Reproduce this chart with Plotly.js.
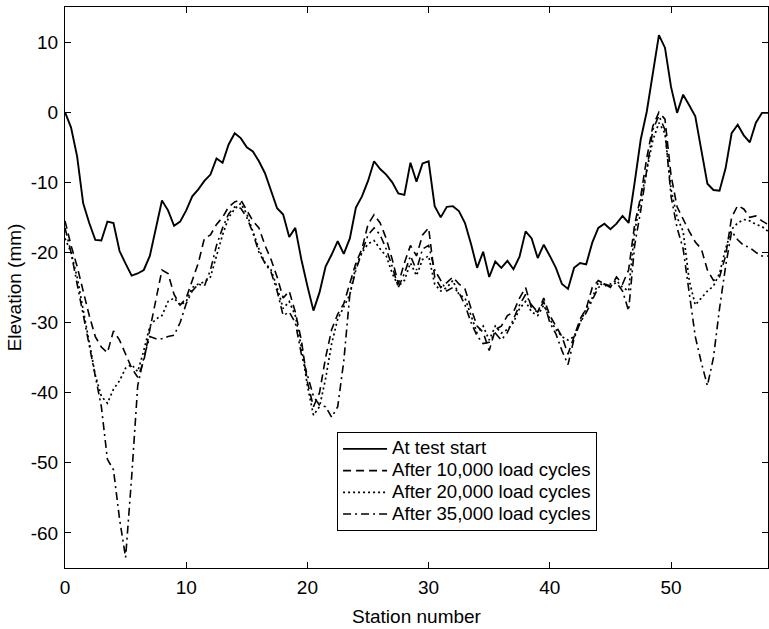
<!DOCTYPE html>
<html>
<head>
<meta charset="utf-8">
<script src="https://cdn.plot.ly/plotly-3.0.1.min.js"></script>
<style>html,body{margin:0;padding:0;background:#fff;}#chart{width:769px;height:629px;}</style>
</head>
<body>
<div id="chart"></div>
<script>
const stations = [0,0.5,1,1.5,2,2.5,3,3.5,4,4.5,5,5.5,6,6.5,7,7.5,8,8.5,9,9.5,10,10.5,11,11.5,12,12.5,13,13.5,14,14.5,15,15.5,16,16.5,17,17.5,18,18.5,19,19.5,20,20.5,21,21.5,22,22.5,23,23.5,24,24.5,25,25.5,26,26.5,27,27.5,28,28.5,29,29.5,30,30.5,31,31.5,32,32.5,33,33.5,34,34.5,35,35.5,36,36.5,37,37.5,38,38.5,39,39.5,40,40.5,41,41.5,42,42.5,43,43.5,44,44.5,45,45.5,46,46.5,47,47.5,48,48.5,49,49.5,50,50.5,51,51.5,52,52.5,53,53.5,54,54.5,55,55.5,56,56.5,57,57.5,58];

const atTestStart = [0,-2.2,-6.3,-13.0,-15.8,-18.2,-18.3,-15.6,-15.8,-19.8,
  -21.6,-23.3,-23.0,-22.5,-20.5,-16.5,-12.6,-14.0,-16.2,-15.6,
  -14.0,-12.0,-11.0,-9.8,-8.9,-6.6,-7.2,-4.6,-3.0,-3.7,
  -5.0,-5.6,-7.0,-8.7,-11.3,-13.7,-14.6,-17.8,-16.5,-21.0,
  -24.8,-28.3,-25.7,-22.0,-20.3,-18.4,-20.2,-18.0,-13.6,-12.0,
  -9.8,-7.0,-8.1,-8.9,-10.0,-11.6,-11.8,-7.2,-9.9,-7.3,
  -7.0,-13.4,-15.0,-13.5,-13.4,-14.1,-15.8,-18.8,-22.2,-19.9,
  -23.5,-21.3,-22.2,-21.2,-22.4,-20.6,-17.0,-18.0,-20.8,-18.9,
  -20.5,-22.2,-24.5,-25.2,-22.2,-21.5,-21.7,-18.6,-16.5,-15.9,
  -16.7,-15.9,-14.8,-15.8,-10.0,-3.9,0.1,5.5,11.0,9.2,
  3.6,-0.1,2.5,1.0,-0.6,-5.4,-10.2,-11.1,-11.2,-8.0,
  -3.0,-1.8,-3.3,-4.3,-1.5,-0.1,-0.1];

const after10k = [-15.5,-19,-22,-25.5,-29,-32,-33.5,-34.3,-31.2,-32.5,
  -34.5,-36.5,-37.8,-35.5,-31,-26.5,-22.5,-23,-26,-27.5,
  -26.5,-24,-21.5,-18,-17.5,-16,-15,-13.5,-12.8,-12.5,
  -14,-15.5,-16.5,-19,-21,-23.5,-26.5,-25.5,-28.5,-32.5,
  -38.5,-42,-40,-35,-31,-28.8,-27.3,-24.5,-21.5,-19.5,
  -16,-14.6,-15.8,-18,-21,-24.5,-21.5,-19,-20.5,-17.5,
  -16.5,-23.5,-25,-24.3,-23.5,-24.5,-25.2,-28,-30.5,-31.4,
  -34,-31,-30.5,-29,-28.5,-26.5,-25,-28,-28.5,-26.5,
  -29,-30.5,-32,-34.5,-32,-29.5,-28,-25,-24,-24.5,
  -25,-23.5,-24.5,-22.5,-16,-12,-6.5,-2,0,-1,
  -9,-13.5,-15.3,-17,-18.5,-19.5,-22.5,-24,-23.5,-20.5,
  -15,-13.3,-13.8,-15,-14.8,-15.5,-16];

const after20k = [-18,-20,-23.5,-28,-33,-37.5,-40.5,-41.5,-39.5,-38.3,
  -36.5,-36,-37,-34,-30.5,-29.5,-29,-27,-26.5,-27.5,
  -27,-25,-24.5,-24.2,-23.5,-20.5,-17.5,-15,-13.8,-13,
  -14.5,-17,-19.5,-21.5,-22.5,-25,-28,-27,-29,-33.5,
  -39,-43.2,-42,-38,-33,-29.5,-27.8,-26,-22,-20,
  -18.8,-18.3,-19.5,-20.5,-23,-24.8,-24,-21.5,-23.3,-21,
  -20.5,-24.5,-25.5,-25,-24,-26,-26.5,-29,-31.5,-30.5,
  -32.5,-30.5,-31.5,-31,-30,-28,-27,-28.5,-29,-27.5,
  -29.5,-31,-32,-32.5,-32,-30,-28,-26.5,-24.3,-24.8,
  -24.5,-24,-25,-25.5,-17,-12.5,-8,-4,-1.5,-3,
  -11,-15,-17,-24,-27.5,-26.5,-25.5,-24.8,-23,-19.5,
  -16.7,-15.8,-15.3,-15.5,-16,-16.3,-17];

const after35k = [-16.5,-20,-24.5,-29,-33.5,-37.5,-42,-49.5,-51,-58,
  -63.5,-52,-39,-35,-32,-32.3,-32.3,-32,-31.8,-30,
  -27.3,-25.5,-24.5,-24.8,-22.5,-19,-16.5,-14.5,-13.5,-13.7,
  -15,-17.2,-20,-21.5,-22.8,-25.5,-29,-28.5,-30,-34.5,
  -37.5,-40.5,-41.8,-42,-43.5,-42,-35.5,-26,-22.5,-20,
  -17.5,-16.5,-17.5,-19.5,-22,-25,-23,-20.5,-22.5,-19.5,
  -19,-22.5,-24,-25.5,-25,-25.7,-27.5,-30,-31.9,-33,
  -32.8,-31.5,-32.5,-31.4,-29.5,-27.5,-26,-27.5,-28.5,-27,
  -30,-31.6,-34,-36,-32.3,-30,-28.6,-26.7,-25,-24.5,
  -24.8,-24.3,-25.5,-28.3,-19,-14,-8.5,-2.5,-0.5,-2.5,
  -12,-16.5,-19.5,-26,-32,-35.7,-39,-35,-28,-22,
  -17,-18.2,-19,-19.3,-20,-20.5,-20.5];

const seriesNames = ['At test start','After 10,000 load cycles','After 20,000 load cycles','After 35,000 load cycles'];
const xTickVals = [0,10,20,30,40,50];
const xTickText = ['0','10','20','30','40','50'];
const yTickVals = [-60,-50,-40,-30,-20,-10,0,10];
const yTickText = ['-60','-50','-40','-30','-20','-10','0','10'];

const seriesData = [atTestStart, after10k, after20k, after35k];
const dashes = ['solid','8px,5px','2px,3px','8px,4px,2px,4px'];
const widths = [1.9,1.6,1.7,1.6];

const traces = seriesData.map((ys,i)=>({
  x: stations, y: ys, type:'scatter', mode:'lines',
  name: '<span style="font-size:18.6px">' + seriesNames[i] + '</span>',
  line:{color:'black', width:widths[i], dash:dashes[i]}
}));

const axisCommon = {
  ticks:'inside', ticklen:6, tickwidth:1, tickcolor:'black',
  showline:true, linecolor:'black', linewidth:1, mirror:'ticks',
  showgrid:false, zeroline:false, tickfont:{size:19}
};

const layout = {
  width:769, height:629,
  margin:{l:65, r:1, t:7, b:61},
  paper_bgcolor:'white', plot_bgcolor:'white',
  font:{family:'"Liberation Sans", Arial, Helvetica, sans-serif', size:19, color:'black'},
  xaxis: Object.assign({}, axisCommon, {
    range:[0,58], tickmode:'array', tickvals:xTickVals, ticktext:xTickText,
    ticklabelstandoff:2,
    title:{text:'Station number', font:{size:19}, standoff:12}
  }),
  yaxis: Object.assign({}, axisCommon, {
    range:[-65,15], tickmode:'array', tickvals:yTickVals, ticktext:yTickText,
    ticklabelstandoff:2,
    title:{text:'Elevation (mm)', font:{size:19}, standoff:4}
  }),
  showlegend:true,
  legend:{x:0.387, y:0.2424, xanchor:'left', yanchor:'top', bgcolor:'white',
    bordercolor:'black', borderwidth:1, font:{size:14.4}, itemwidth:44}
};

Plotly.newPlot('chart', traces, layout, {displayModeBar:false, staticPlot:true});
</script>
</body>
</html>
